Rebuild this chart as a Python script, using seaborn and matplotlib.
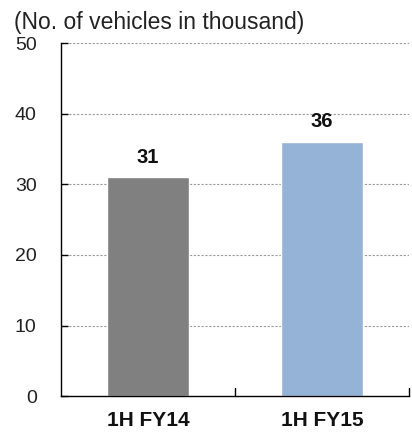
import matplotlib
matplotlib.use("Agg")
import matplotlib.pyplot as plt
import seaborn as sns
import pandas as pd

periods = ["1H FY14", "1H FY15"]
vehicles = [31, 36]
bar_colors = ["#808080", "#95B3D7"]
y_ticks = [0, 10, 20, 30, 40, 50]

sns.set_theme(style="white")
plt.rcParams["font.family"] = ["Liberation Sans", "DejaVu Sans"]

df = pd.DataFrame({"period": periods, "vehicles": vehicles})

fig = plt.figure(figsize=(4.12, 4.32), dpi=100)
ax = fig.add_axes([0.148, 0.083, 0.845, 0.817])

sns.barplot(data=df, x="period", y="vehicles", hue="period", palette=bar_colors,
            width=0.47, legend=False, ax=ax, saturation=1)

ax.set_ylim(0, 50)
ax.set_xlim(-0.5, 1.5)
ax.set_yticks(y_ticks)
ax.set_yticklabels([str(t) for t in y_ticks], fontsize=14, color="#222222")
ax.set_xlabel("")
ax.set_ylabel("")

for t in y_ticks[1:]:
    ax.axhline(t, color="#9a9a9a", linestyle=(0, (2, 1.5)), linewidth=0.8, zorder=0)
ax.set_axisbelow(True)

for spine in ["top", "right"]:
    ax.spines[spine].set_visible(False)
for spine in ["left", "bottom"]:
    ax.spines[spine].set_color("#000000")
    ax.spines[spine].set_linewidth(1.0)

ax.tick_params(axis="y", direction="in", length=5, width=1, color="#000000", pad=17.5, left=True)
ax.tick_params(axis="x", bottom=False, pad=5)
for lbl in ax.get_xticklabels():
    lbl.set_fontweight("bold")
    lbl.set_fontsize(15)
    lbl.set_color("#111111")

# category boundary ticks on the x axis
for xb in [0.5, 1.5]:
    ax.plot([xb, xb], [0, 1.1], color="#000000", linewidth=1, clip_on=False)

for i, v in enumerate(vehicles):
    ax.annotate(f"{v}", xy=(i, v), xytext=(0, 10.5), textcoords="offset points",
                ha="center", va="baseline", fontsize=14.5, fontweight="bold", color="#111111")

fig.text(0.034, 0.933, "(No. of vehicles in thousand)", fontsize=16.5, color="#222222",
         ha="left", va="baseline")

fig.savefig("out.png", dpi=100, facecolor="white")
